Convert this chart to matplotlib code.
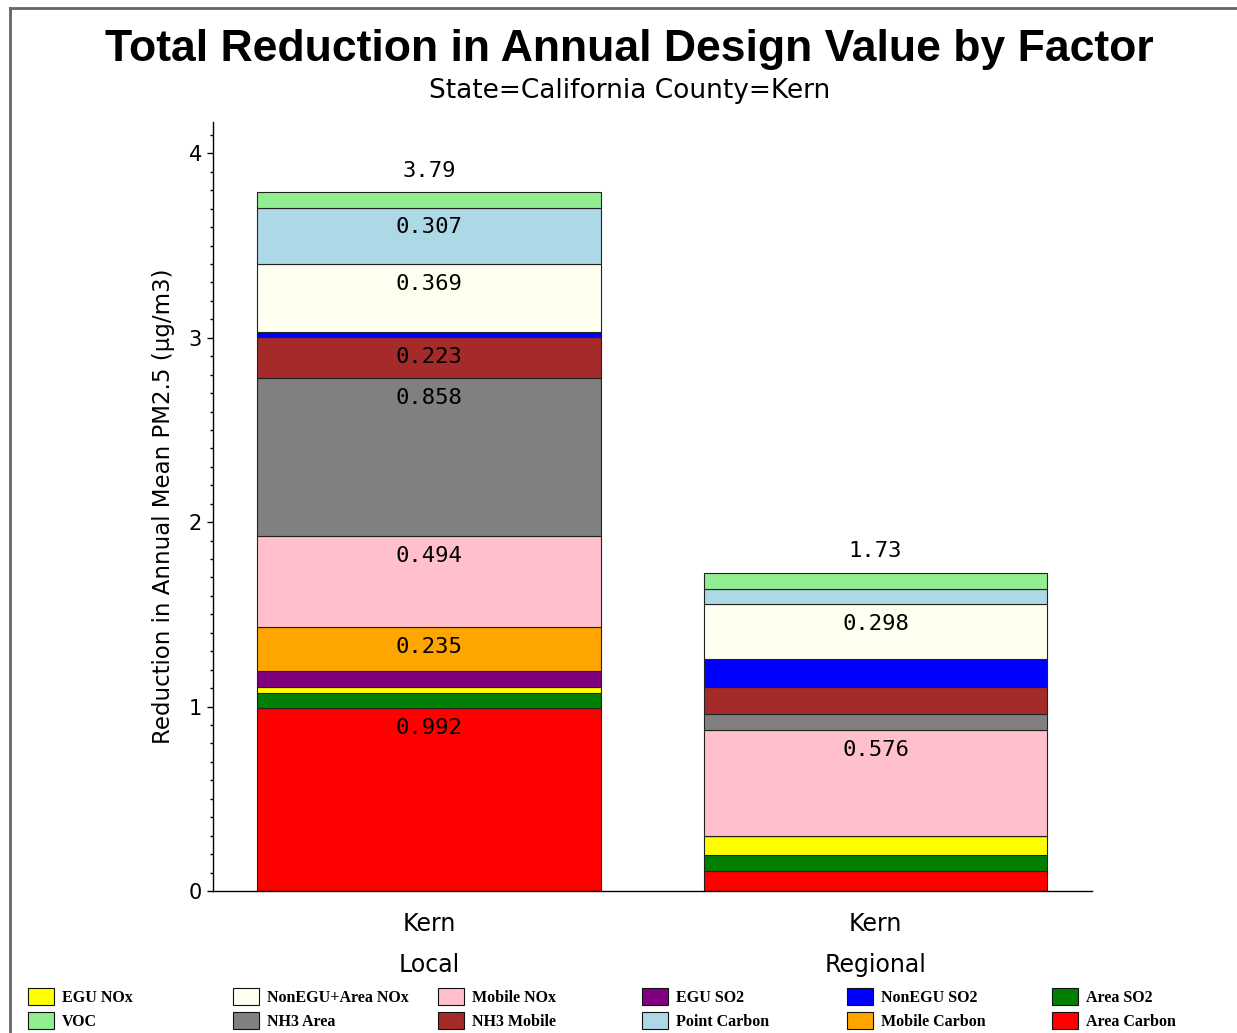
"""Stacked bar chart: total reduction in annual PM2.5 design value by factor, Kern County."""
import matplotlib
matplotlib.use("Agg")
import matplotlib.pyplot as plt
from matplotlib.patches import Rectangle
from matplotlib.lines import Line2D
from matplotlib.ticker import MultipleLocator

plt.rcParams.update({
    "font.family": "DejaVu Sans",
    "font.size": 15,
    "axes.linewidth": 1.0,
})

# factors in stacking order (bottom -> top)
FACTORS = ["Area Carbon", "Area SO2", "EGU NOx", "EGU SO2", "Mobile Carbon",
           "Mobile NOx", "NH3 Area", "NH3 Mobile", "NonEGU SO2",
           "NonEGU+Area NOx", "Point Carbon", "VOC"]
COLORS = ["#ff0000", "#008000", "#ffff00", "#800080", "#ffa500",
          "#ffc0cb", "#808080", "#a52a2a", "#0000ff",
          "#fffff0", "#add8e6", "#90ee90"]

CATEGORIES = ["Kern\nLocal", "Kern\nRegional"]
LOCAL = [0.992, 0.082, 0.033, 0.087, 0.235, 0.494, 0.858, 0.223, 0.025, 0.369, 0.307, 0.085]
REGIONAL = [0.110, 0.087, 0.100, 0.0, 0.0, 0.576, 0.089, 0.145, 0.149, 0.298, 0.082, 0.091]

# legend is filled row by row
LEGEND_ORDER = ["EGU NOx", "NonEGU+Area NOx", "Mobile NOx", "EGU SO2", "NonEGU SO2", "Area SO2",
                "VOC", "NH3 Area", "NH3 Mobile", "Point Carbon", "Mobile Carbon", "Area Carbon"]

LABEL_MIN = 0.2
W, H = 1237, 1033


def main():
    fig = plt.figure(figsize=(W / 100, H / 100), dpi=100)
    ax = fig.add_axes([213 / W, 1 - 891 / H, (1092 - 213) / W, (891 - 122) / H])

    data = [LOCAL, REGIONAL]
    xs = list(range(len(CATEGORIES)))
    bottoms = [0.0] * len(xs)
    for k, name in enumerate(FACTORS):
        vals = [series[k] for series in data]
        ax.bar(xs, vals, width=0.77, bottom=bottoms, color=COLORS[k],
               edgecolor="#222", linewidth=0.8, label=name)
        for x, v, b in zip(xs, vals, bottoms):
            if v >= LABEL_MIN:
                ax.annotate(f"{v:.3g}", (x, b + v), xytext=(0, -7),
                            textcoords="offset points", ha="center", va="top",
                            fontsize=16, fontfamily="DejaVu Sans Mono")
        bottoms = [b + v for b, v in zip(bottoms, vals)]

    for x, tot in zip(xs, bottoms):
        ax.annotate(f"{tot:.3g}", (x, tot), xytext=(0, 8), textcoords="offset points",
                    ha="center", va="bottom", fontsize=16, fontfamily="DejaVu Sans Mono")

    ax.set_xlim(-0.484, 1.485)
    ax.set_ylim(0, 4.17)
    ax.set_xticks(xs)
    ax.set_xticklabels(CATEGORIES, fontsize=17, linespacing=1.9)
    ax.tick_params(axis="x", length=0, pad=15)
    ax.yaxis.set_major_locator(MultipleLocator(1))
    ax.yaxis.set_minor_locator(MultipleLocator(0.1))
    ax.tick_params(axis="y", which="major", length=4, width=1, pad=4, labelsize=15)
    ax.tick_params(axis="y", which="minor", length=2.5, width=1)
    ax.spines["top"].set_visible(False)
    ax.spines["right"].set_visible(False)
    ax.set_ylabel("Reduction in Annual Mean PM2.5 (\u03bcg/m3)", fontsize=16.5, labelpad=10)

    fig.text(0.509, 1 - 50 / H, "Total Reduction in Annual Design Value by Factor",
             ha="center", va="center", fontsize=32, fontweight="bold",
             fontfamily="Liberation Sans")
    fig.text(0.509, 1 - 91 / H, "State=California County=Kern",
             ha="center", va="center", fontsize=19)

    # page frame
    fig.add_artist(Line2D([10 / W, 10 / W], [0, 1 - 8 / H], color="#666", lw=2))
    fig.add_artist(Line2D([10 / W, 1], [1 - 8 / H, 1 - 8 / H], color="#666", lw=2))

    # legend grid: 6 columns x 2 rows
    color_of = dict(zip(FACTORS, COLORS))
    for i, name in enumerate(LEGEND_ORDER):
        row, col = divmod(i, 6)
        x0 = 28 + col * 204.8
        y0 = 988 + row * 24
        fig.add_artist(Rectangle((x0 / W, 1 - (y0 + 17) / H), 26 / W, 17 / H,
                                 transform=fig.transFigure, facecolor=color_of[name],
                                 edgecolor="#111", linewidth=0.8))
        fig.text((x0 + 34) / W, 1 - (y0 + 10) / H, name, ha="left", va="center",
                 fontsize=11.5, fontweight="bold", fontfamily="Liberation Serif")

    fig.savefig("out.png", dpi=100)
    plt.close(fig)


if __name__ == "__main__":
    main()
